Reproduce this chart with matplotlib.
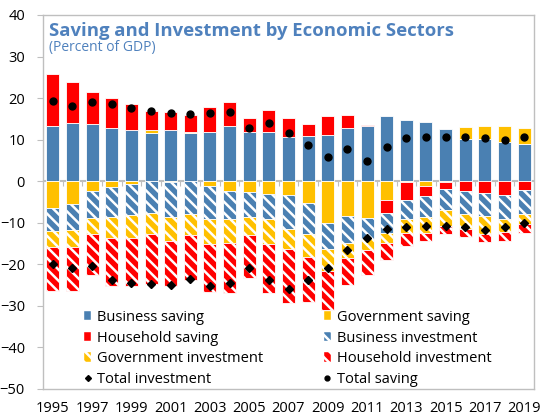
import numpy as np
import matplotlib
matplotlib.use('Agg')
import matplotlib.pyplot as plt
from matplotlib.patches import Patch
from matplotlib.lines import Line2D

plt.rcParams['font.family'] = ['Open Sans', 'DejaVu Sans']
plt.rcParams['hatch.linewidth'] = 1.8

YEARS = list(range(1995, 2020))
TICK_LABELS = [str(y) if (y - 1995) % 2 == 0 else '' for y in YEARS]

# saving components (percent of GDP)
business_saving = [13.3, 14.0, 13.8, 12.8, 12.3, 11.6, 12.3, 11.5, 11.9, 13.2, 11.9, 11.9, 10.6,
                   10.9, 11.1, 12.8, 13.2, 15.6, 14.8, 14.2, 12.5, 10.2, 10.2, 9.4, 9.0]
government_saving = [-6.4, -5.6, -2.3, -1.3, -0.7, 0.7, -0.3, 0.4, -1.1, -2.4, -2.7, -3.1, -3.4,
                     -5.2, -10.0, -8.4, -8.8, -4.4, -0.2, -1.1, -0.2, 2.8, 3.0, 3.8, 3.8]
household_saving = [12.4, 9.9, 7.6, 7.2, 6.3, 4.6, 4.4, 4.1, 5.9, 5.9, 3.4, 5.2, 4.5,
                    2.9, 4.7, 3.2, 0.3, -3.2, -4.2, -2.5, -1.6, -2.4, -2.9, -3.4, -2.2]

# investment components, shown below zero
business_investment = [-5.6, -6.1, -6.6, -7.3, -7.5, -7.6, -8.3, -8.0, -8.1, -6.6, -5.9, -6.1, -8.1,
                       -7.6, -6.2, -6.4, -5.1, -4.8, -4.6, -5.0, -5.2, -5.6, -5.5, -5.6, -5.8]
government_investment = [-3.9, -4.1, -3.9, -5.0, -5.4, -5.0, -5.8, -5.0, -5.8, -5.8, -4.4, -5.8, -4.7,
                         -5.5, -5.5, -3.7, -2.6, -2.4, -3.4, -3.8, -3.8, -3.6, -4.4, -3.3, -2.4]
household_investment = [-10.5, -10.6, -9.8, -11.6, -11.7, -12.1, -10.7, -10.7, -11.6, -12.0, -10.4, -12.0, -13.2,
                        -10.7, -9.4, -6.4, -6.0, -4.2, -3.3, -2.0, -1.9, -1.9, -1.8, -2.0, -2.0]

total_saving = [19.2, 18.2, 19.0, 18.6, 17.7, 16.9, 16.5, 16.1, 16.5, 16.7, 12.7, 14.0, 11.6,
                8.7, 5.9, 7.7, 4.8, 8.2, 10.4, 10.6, 10.7, 10.7, 10.4, 9.8, 10.6]
total_investment = [-20.0, -20.8, -20.3, -23.7, -24.6, -24.7, -24.9, -23.6, -25.3, -24.5, -20.8, -23.8, -26.0,
                    -23.8, -20.8, -16.5, -13.7, -11.5, -11.1, -10.8, -10.8, -11.0, -11.7, -10.9, -10.1]

BLUE = '#4A80B2'
YELLOW = '#FFC000'
RED = '#FF0000'
TITLE_BLUE = '#4F81BD'
GRID = '#BFBFBF'

series = [
    ('Business saving', business_saving, BLUE, None),
    ('Government saving', government_saving, YELLOW, None),
    ('Household saving', household_saving, RED, None),
    ('Business investment', business_investment, BLUE, '\\\\\\'),
    ('Government investment', government_investment, YELLOW, '\\\\\\'),
    ('Household investment', household_investment, RED, '\\\\\\'),
]

fig = plt.figure(figsize=(5.42, 4.18), dpi=100)
ax = fig.add_axes([43 / 542, 1 - 389 / 418, (534 - 43) / 542, (389 - 15) / 418])

x = np.arange(len(YEARS))
pos_base = np.zeros(len(YEARS))
neg_base = np.zeros(len(YEARS))
handles = {}
for name, vals, color, hatch in series:
    v = np.array(vals)
    bottom = np.where(v >= 0, pos_base, neg_base)
    ax.bar(x, v, 0.66, bottom=bottom, color=color, edgecolor='white',
           linewidth=0.6, hatch=hatch, zorder=2)
    pos_base += np.where(v >= 0, v, 0)
    neg_base += np.where(v < 0, v, 0)
    handles[name] = Patch(facecolor=color, edgecolor='white', linewidth=0.3, hatch=hatch)

ax.plot(x, total_saving, 'o', color='black', markersize=5, zorder=4)
ax.plot(x, total_investment, 'D', color='black', markersize=4, zorder=4)
handles['Total investment'] = Line2D([], [], marker='D', color='black', ls='none', markersize=3)
handles['Total saving'] = Line2D([], [], marker='o', color='black', ls='none', markersize=3.5)

ax.axhline(0, color=GRID, lw=1.5, zorder=1)
ax.vlines(x[:-1] + 0.5, -1.2, 0, color=GRID, lw=0.8, zorder=1)

ax.set_xlim(-0.5, len(YEARS) - 0.5)
ax.set_ylim(-50, 40)
ax.set_yticks(np.arange(-50, 41, 10))
ax.set_xticks(x)
ax.set_xticklabels(TICK_LABELS)
ax.tick_params(axis='x', length=0, pad=9, labelsize=10.5, colors='black')
ax.tick_params(axis='y', length=4, width=0.8, color=GRID, pad=9, labelsize=10.5)
for s in ax.spines.values():
    s.set_color(GRID)
    s.set_linewidth(1.0)

# legend fills column by column, so interleave to get the row-wise order
order = ['Business saving', 'Household saving', 'Government investment', 'Total investment',
         'Government saving', 'Business investment', 'Household investment', 'Total saving']
leg = ax.legend([handles[k] for k in order], order, ncol=2, frameon=False,
                loc='upper left', bbox_to_anchor=(84 / 542, 1 - 310 / 418),
                bbox_transform=fig.transFigure, fontsize=10.5,
                handlelength=0.5, handleheight=0.6, handletextpad=0.4,
                columnspacing=4.15, labelspacing=0.38, borderaxespad=0, borderpad=0)

fig.text(49 / 542, 1 - 31 / 418, 'Saving and Investment by Economic Sectors',
         fontsize=13.3, fontweight='bold', color=TITLE_BLUE, va='center', ha='left')
fig.text(49 / 542, 1 - 48 / 418, '(Percent of GDP)', fontsize=10,
         color=TITLE_BLUE, va='center', ha='left')

fig.savefig('out.png', dpi=100)
